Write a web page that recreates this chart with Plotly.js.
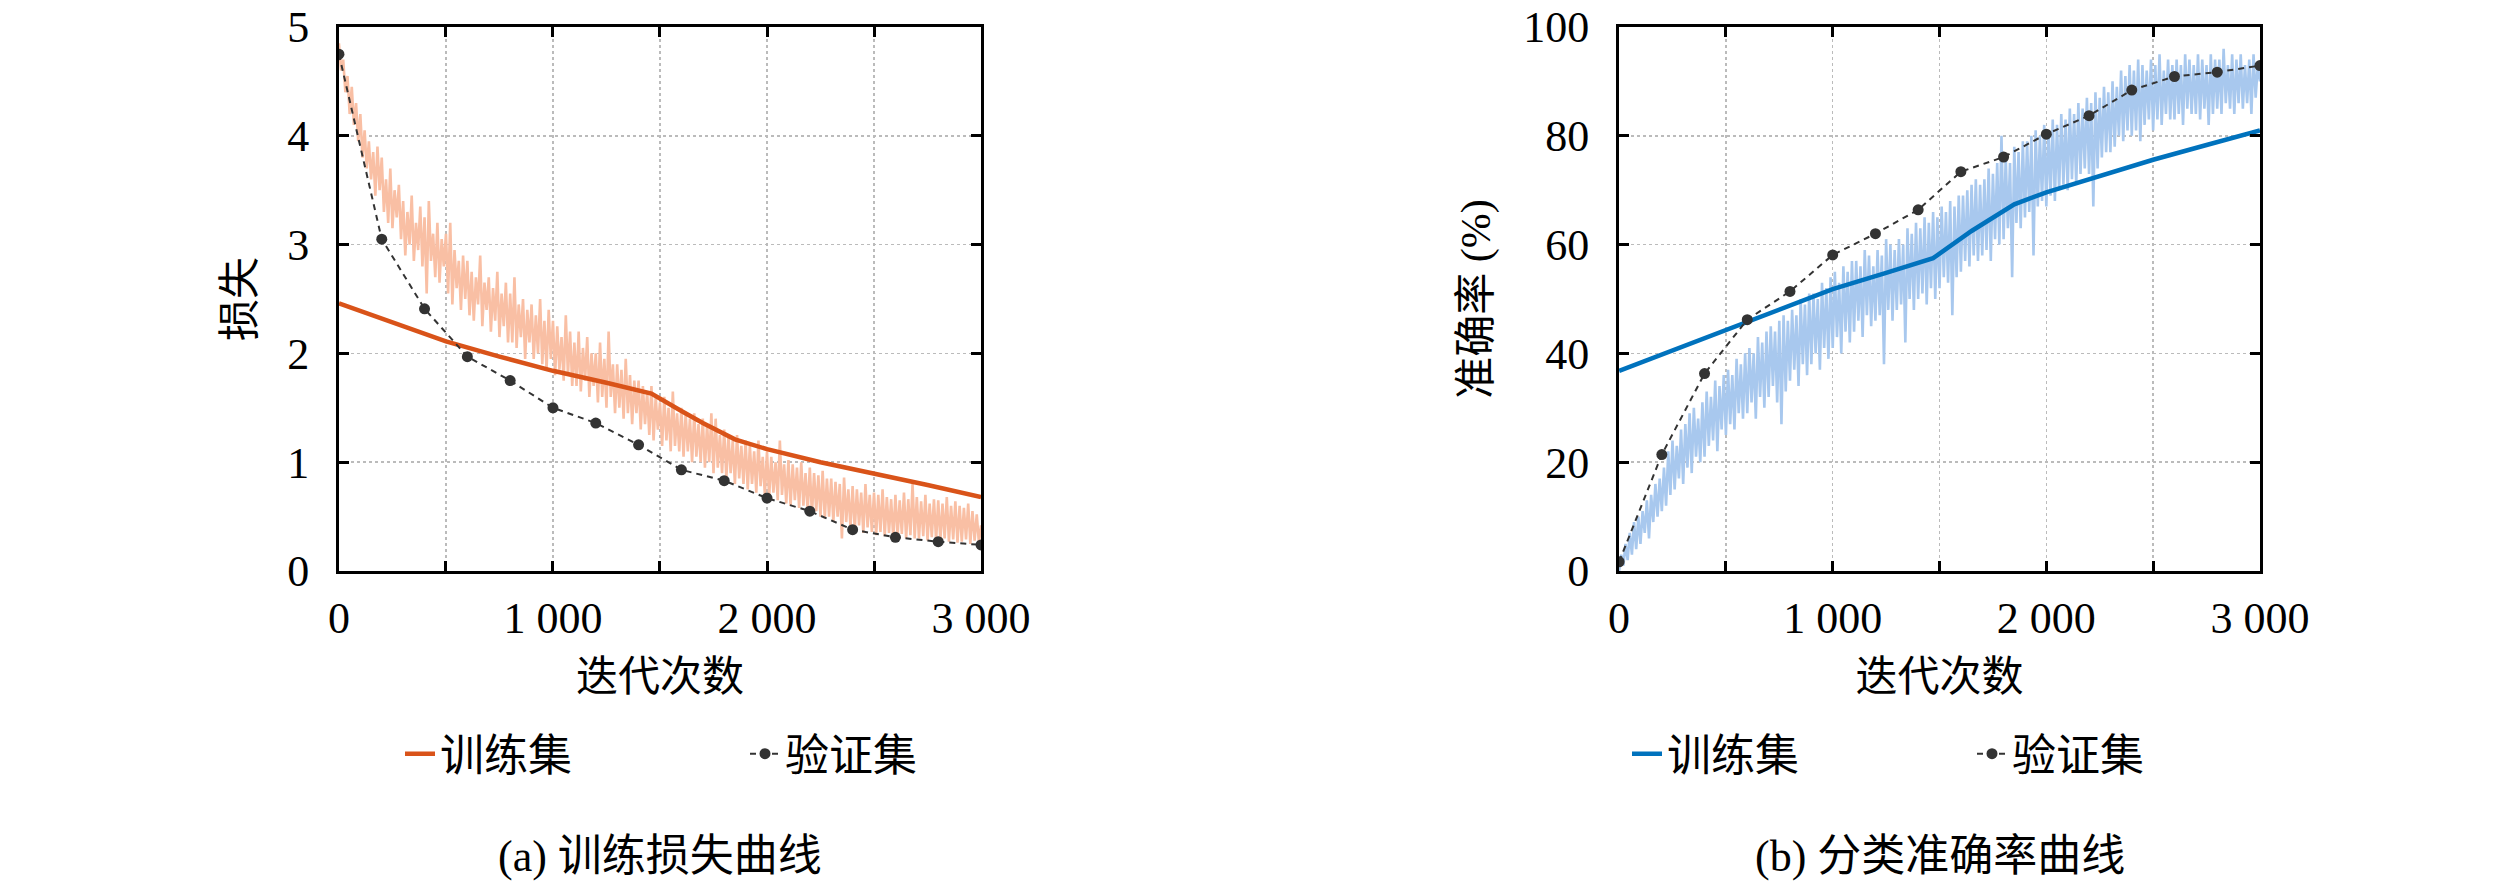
<!DOCTYPE html>
<html>
<head>
<meta charset="utf-8">
<script src="https://cdn.plot.ly/plotly-3.0.1.min.js"></script>
<style>
  body { margin: 0; background: #fff; }
  #plot { width: 2520px; height: 882px; }
</style>
</head>
<body>
<div id="plot"></div>
<script>
// validation points, every 200 iterations
var valIters = [0, 200, 400, 600, 800, 1000, 1200, 1400, 1600, 1800, 2000, 2200, 2400, 2600, 2800, 3000];
var valLoss = [4.75, 3.05, 2.41, 1.97, 1.75, 1.50, 1.36, 1.16, 0.93, 0.83, 0.67, 0.55, 0.38, 0.31, 0.27, 0.24];
var valAcc = [1.7, 21.4, 36.3, 46.2, 51.4, 58.1, 62.0, 66.4, 73.4, 76.1, 80.3, 83.7, 88.4, 90.9, 91.7, 92.9];

// smoothed training curves
var trainLossIters = [0, 250, 500, 750, 1000, 1250, 1460, 1600, 1700, 1850, 2000, 2250, 2500, 2750, 3000];
var trainLoss = [2.46, 2.28, 2.11, 1.97, 1.84, 1.73, 1.63, 1.47, 1.36, 1.21, 1.12, 1.00, 0.90, 0.79, 0.68];
var trainAccIters = [0, 500, 1000, 1250, 1470, 1650, 1850, 2000, 2250, 2500, 2750, 3000];
var trainAcc = [36.8, 44.4, 51.8, 54.8, 57.5, 62.5, 67.4, 69.6, 72.6, 75.6, 78.3, 81.0];

// raw (noisy) training curves, read every 10 iterations (one row = 100 iterations)
var rawLoss = [
  4.85, 4.6, 4.7, 4.4, 4.55, 4.2, 4.45, 4.1, 4.3, 3.95,
  4.2, 3.8, 4.05, 3.7, 3.95, 3.6, 3.85, 3.45, 3.9, 3.5,
  3.8, 3.3, 3.6, 3.2, 3.7, 3.15, 3.5, 3.25, 3.55, 3.05,
  3.4, 2.9, 3.3, 3.0, 3.45, 2.85, 3.2, 2.95, 3.35, 2.8,
  3.25, 2.55, 3.4, 2.85, 3.1, 2.7, 3.2, 2.65, 3.05, 2.8,
  3.1, 2.55, 3.2, 2.45, 2.95, 2.6, 2.85, 2.4, 2.9, 2.5,
  2.85, 2.35, 2.75, 2.3, 2.7, 2.45, 2.9, 2.25, 2.65, 2.4,
  2.7, 2.2, 2.6, 2.3, 2.75, 2.15, 2.55, 2.25, 2.65, 2.1,
  2.55, 2.1, 2.7, 2.05, 2.45, 2.15, 2.5, 1.95, 2.4, 2.1,
  2.45, 1.95, 2.35, 2.0, 2.5, 1.9, 2.3, 1.85, 2.4, 1.95,
  2.3, 1.8, 2.25, 1.85, 2.15, 1.75, 2.35, 1.8, 2.2, 1.7,
  2.1, 1.7, 2.2, 1.65, 2.05, 1.75, 2.15, 1.6, 2.0, 1.7,
  2.0, 1.55, 2.1, 1.6, 1.95, 1.5, 2.2, 1.6, 1.9, 1.45,
  1.9, 1.5, 1.85, 1.4, 1.95, 1.45, 1.8, 1.35, 1.75, 1.45,
  1.75, 1.3, 1.7, 1.35, 1.65, 1.25, 1.7, 1.2, 1.6, 1.3,
  1.55, 1.15, 1.6, 1.2, 1.5, 1.1, 1.65, 1.15, 1.45, 1.1,
  1.5, 1.05, 1.45, 1.1, 1.4, 1.0, 1.45, 1.05, 1.35, 1.0,
  1.4, 0.95, 1.35, 1.0, 1.45, 0.9, 1.4, 0.95, 1.25, 0.9,
  1.3, 0.85, 1.25, 0.9, 1.2, 0.8, 1.25, 0.85, 1.15, 0.8,
  1.2, 0.75, 1.15, 0.8, 1.1, 0.72, 1.2, 0.78, 1.05, 0.7,
  1.1, 0.68, 1.05, 0.72, 1.0, 0.65, 1.2, 0.7, 0.98, 0.62,
  1.02, 0.6, 0.98, 0.65, 0.95, 0.58, 1.0, 0.6, 0.9, 0.55,
  0.95, 0.52, 0.9, 0.55, 0.88, 0.5, 0.92, 0.48, 0.85, 0.5,
  0.85, 0.45, 0.82, 0.5, 0.8, 0.3, 0.86, 0.45, 0.75, 0.4,
  0.78, 0.38, 0.75, 0.42, 0.72, 0.35, 0.8, 0.4, 0.7, 0.36,
  0.72, 0.33, 0.7, 0.36, 0.75, 0.32, 0.68, 0.35, 0.66, 0.3,
  0.7, 0.32, 0.65, 0.34, 0.72, 0.3, 0.66, 0.33, 0.8, 0.3,
  0.68, 0.3, 0.64, 0.32, 0.7, 0.28, 0.62, 0.31, 0.66, 0.28,
  0.65, 0.28, 0.62, 0.3, 0.68, 0.27, 0.6, 0.29, 0.64, 0.26,
  0.6, 0.27, 0.58, 0.29, 0.62, 0.25, 0.55, 0.28, 0.52, 0.26,
  0.42
];
var rawAcc = [
  0, 3, 1, 5, 2, 7, 3, 9, 4, 10,
  5, 11, 7, 13, 6, 14, 9, 16, 10, 17,
  11, 19, 12, 22, 14, 24, 15, 23, 17, 26,
  16, 27, 19, 29, 18, 30, 21, 28, 20, 31,
  21, 33, 23, 32, 24, 35, 22, 34, 26, 36,
  25, 37, 27, 36, 26, 39, 29, 38, 28, 40,
  29, 41, 31, 40, 28, 43, 32, 42, 30, 44,
  32, 45, 34, 44, 31, 46, 27, 47, 33, 46,
  35, 48, 37, 47, 34, 50, 38, 49, 36, 51,
  38, 51, 40, 50, 37, 53, 41, 52, 39, 54,
  41, 55, 43, 53, 40, 56, 44, 55, 42, 57,
  44, 57, 46, 56, 43, 59, 47, 58, 45, 56,
  46, 59, 47, 58, 38, 61, 48, 60, 46, 59,
  48, 61, 49, 60, 42, 63, 50, 62, 48, 64,
  50, 63, 51, 65, 49, 64, 52, 66, 50, 65,
  52, 67, 54, 66, 53, 68, 47, 67, 54, 69,
  55, 69, 57, 70, 56, 71, 58, 72, 57, 71,
  58, 72, 59, 74, 57, 73, 61, 75, 60, 80,
  61, 76, 63, 75, 54, 78, 64, 77, 63, 79,
  65, 79, 66, 80, 58, 81, 67, 80, 68, 82,
  67, 81, 69, 83, 68, 82, 70, 84, 71, 83,
  70, 85, 72, 84, 71, 86, 73, 85, 74, 87,
  73, 86, 67, 88, 74, 87, 76, 89, 77, 88,
  77, 90, 78, 89, 80, 92, 79, 91, 81, 93,
  80, 92, 81, 94, 79, 93, 82, 92, 83, 94,
  81, 93, 83, 95, 82, 92, 84, 94, 83, 93,
  83, 94, 84, 93, 82, 95, 85, 94, 84, 93,
  84, 95, 83, 94, 85, 93, 82, 95, 84, 94,
  85, 94, 84, 96, 86, 93, 85, 95, 84, 94,
  86, 95, 85, 93, 86, 94, 84, 95, 87, 93,
  90
];
var rawIters = rawLoss.map(function(v, i) { return i * 10; });

var xTickVals = [0, 500, 1000, 1500, 2000, 2500, 3000];
var xTickText = ['0', '', '1 000', '', '2 000', '', '3 000'];

var serif = 'Liberation Serif, Noto Sans CJK SC, serif';

function makeX(domain, anchor) {
  return {
    domain: domain, anchor: anchor,
    range: [0, 3000],
    tickvals: xTickVals, ticktext: xTickText,
    ticks: 'inside', ticklen: 10, tickwidth: 3, tickcolor: '#000',
    showline: true, linewidth: 3, linecolor: '#000', mirror: 'ticks',
    showgrid: true, gridcolor: '#bbbbbb', gridwidth: 1.5, griddash: 'dot',
    zeroline: false,
    tickfont: {family: serif, size: 44, color: '#000'},
    ticklabelstandoff: 6, ticklabeloverflow: 'allow',
    title: {text: '迭代次数', font: {family: serif, size: 42, color: '#000'}, standoff: 20}
  };
}
function makeY(domain, anchor, range, dtick, title) {
  return {
    domain: domain, anchor: anchor,
    range: range, dtick: dtick,
    ticks: 'inside', ticklen: 10, tickwidth: 3, tickcolor: '#000',
    showline: true, linewidth: 3, linecolor: '#000', mirror: 'ticks',
    showgrid: true, gridcolor: '#bbbbbb', gridwidth: 1.5, griddash: 'dot',
    zeroline: false,
    tickfont: {family: serif, size: 44, color: '#000'},
    ticklabelstandoff: 18, ticklabeloverflow: 'allow',
    title: {text: title, font: {family: serif, size: 42, color: '#000'}, standoff: 20}
  };
}

var dataPlot = [
  {type: 'scatter', mode: 'lines', x: rawIters, y: rawLoss, xaxis: 'x', yaxis: 'y',
   line: {color: '#F9BFA4', width: 2.6}, showlegend: false, hoverinfo: 'skip'},
  {type: 'scatter', mode: 'lines', name: '训练集', x: trainLossIters, y: trainLoss, xaxis: 'x', yaxis: 'y',
   line: {color: '#D95319', width: 4.5}, legend: 'legend'},
  {type: 'scatter', mode: 'lines+markers', name: '验证集', x: valIters, y: valLoss, xaxis: 'x', yaxis: 'y',
   line: {color: '#333333', width: 2, dash: '6px,5px'}, marker: {color: '#333333', size: 11}, legend: 'legend'},

  {type: 'scatter', mode: 'lines', x: rawIters, y: rawAcc, xaxis: 'x2', yaxis: 'y2',
   line: {color: '#A8C8EE', width: 2.6}, showlegend: false, hoverinfo: 'skip'},
  {type: 'scatter', mode: 'lines', name: '训练集', x: trainAccIters, y: trainAcc, xaxis: 'x2', yaxis: 'y2',
   line: {color: '#0072BD', width: 4.5}, legend: 'legend2'},
  {type: 'scatter', mode: 'lines+markers', name: '验证集', x: valIters, y: valAcc, xaxis: 'x2', yaxis: 'y2',
   line: {color: '#333333', width: 2, dash: '6px,5px'}, marker: {color: '#333333', size: 11}, legend: 'legend2'}
];

var legendBase = {
  orientation: 'h', xanchor: 'left', yanchor: 'middle', y: 0.145,
  font: {family: serif, size: 44, color: '#000'},
  entrywidth: 300, entrywidthmode: 'pixels',
  bgcolor: 'rgba(0,0,0,0)', borderwidth: 0
};

var yDomain = [0.3526, 0.9694];

var layout = {
  width: 2520, height: 882,
  margin: {l: 0, r: 0, t: 0, b: 0},
  paper_bgcolor: '#fff', plot_bgcolor: '#fff',
  showlegend: true,
  xaxis: makeX([0.1345, 0.3893], 'y'),
  yaxis: makeY(yDomain, 'x', [0, 5], 1, '损失'),
  xaxis2: makeX([0.6425, 0.8968], 'y2'),
  yaxis2: makeY(yDomain, 'x2', [0, 100], 20, '准确率 (%)'),
  legend: Object.assign({}, legendBase, {x: 400 / 2520}),
  legend2: Object.assign({}, legendBase, {x: 1627 / 2520}),
  annotations: [
    {text: '(a) 训练损失曲线', xref: 'paper', yref: 'paper', x: 660 / 2520, y: (882 - 856) / 882,
     xanchor: 'center', yanchor: 'middle', showarrow: false, font: {family: serif, size: 44, color: '#000'}},
    {text: '(b) 分类准确率曲线', xref: 'paper', yref: 'paper', x: 1940 / 2520, y: (882 - 856) / 882,
     xanchor: 'center', yanchor: 'middle', showarrow: false, font: {family: serif, size: 44, color: '#000'}}
  ]
};

Plotly.newPlot('plot', dataPlot, layout, {staticPlot: true});
</script>
</body>
</html>
